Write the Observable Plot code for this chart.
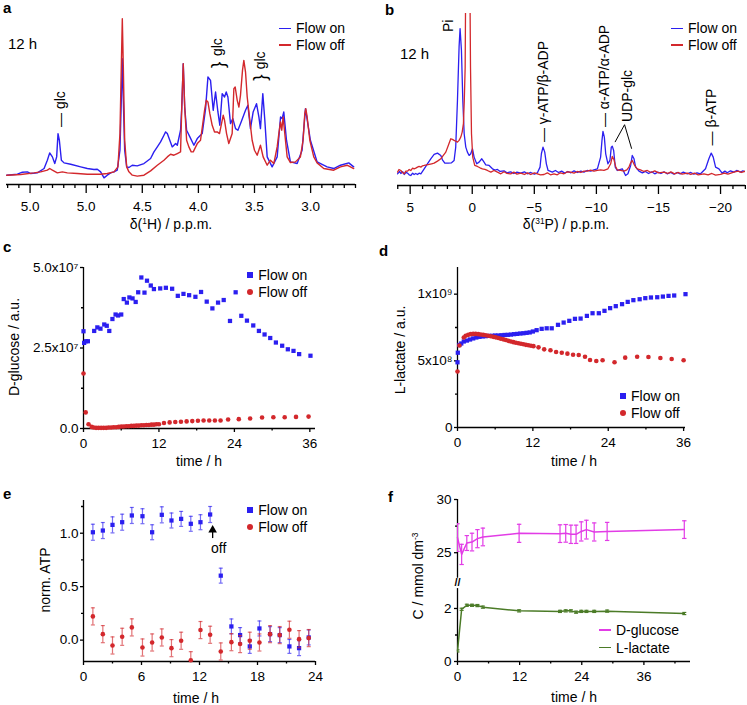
<!DOCTYPE html>
<html>
<head>
<meta charset="utf-8">
<script src="https://cdn.jsdelivr.net/npm/d3@7"></script>
<script src="https://cdn.jsdelivr.net/npm/@observablehq/plot@0.6"></script>
<style>
html,body{margin:0;padding:0;background:#fff;}
#fig{position:relative;width:747px;height:705px;overflow:hidden;font-family:"Liberation Sans",Arial,Helvetica,sans-serif;color:#000;background:#fff;}
.t{position:absolute;white-space:nowrap;line-height:1;}
.t sup{font-size:0.6em;line-height:0;vertical-align:0.6em;}
</style>
</head>
<body>
<div id="fig"></div>
<script>
// ---------------- DATA ----------------
// Panel a: 1H spectra [ppm, intensity a.u.]
const aFlowOn = [[5.708,1.0],[5.613,1.6],[5.568,2.8],[5.524,3.0],[5.494,2.0],[5.435,2.4],[5.375,5.0],[5.346,10.0],[5.325,14.4],[5.301,12.0],[5.280,8.0],[5.263,12.0],[5.251,26.0],[5.239,22.0],[5.221,10.0],[5.197,8.4],[5.138,7.6],[5.049,6.0],[4.990,5.0],[4.930,4.4],[4.901,4.6],[4.871,3.0],[4.841,-0.6],[4.812,1.0],[4.782,2.4],[4.752,3.0],[4.723,4.0],[4.699,16.0],[4.687,46.0],[4.678,71.0],[4.669,46.0],[4.657,16.0],[4.639,6.0],[4.619,5.6],[4.589,7.0],[4.545,6.6],[4.485,8.0],[4.426,11.0],[4.396,15.0],[4.366,18.0],[4.337,21.0],[4.307,25.0],[4.292,27.0],[4.277,26.0],[4.233,18.0],[4.203,20.0],[4.188,19.0],[4.159,28.0],[4.148,42.0],[4.135,68.0],[4.122,42.0],[4.105,28.0],[4.076,24.0],[4.040,19.0],[4.010,23.0],[3.966,26.0],[3.936,41.0],[3.915,60.0],[3.892,58.0],[3.868,40.0],[3.847,51.0],[3.826,39.0],[3.809,31.0],[3.788,50.0],[3.767,48.0],[3.752,51.0],[3.737,48.0],[3.714,32.0],[3.693,35.0],[3.669,29.0],[3.648,28.0],[3.619,33.0],[3.580,40.0],[3.559,43.0],[3.536,29.0],[3.512,39.0],[3.482,44.0],[3.461,36.0],[3.447,29.0],[3.426,50.0],[3.408,34.0],[3.387,12.0],[3.343,6.0],[3.298,12.0],[3.268,36.0],[3.254,35.0],[3.239,39.0],[3.215,22.0],[3.180,9.0],[3.120,8.0],[3.076,16.0],[3.046,41.0],[3.002,22.0],[2.942,9.0],[2.853,6.0],[2.794,5.0],[2.734,7.0],[2.660,8.4],[2.616,6.0]];
const aFlowOff = [[5.708,1.0],[5.583,1.4],[5.464,2.4],[5.405,3.0],[5.346,4.0],[5.325,5.0],[5.301,4.0],[5.257,2.4],[5.212,3.0],[5.168,2.4],[5.079,2.0],[4.990,1.6],[4.930,1.6],[4.871,1.6],[4.812,2.0],[4.752,3.0],[4.717,6.0],[4.699,26.0],[4.687,66.0],[4.678,95.0],[4.669,66.0],[4.657,22.0],[4.639,6.0],[4.619,3.0],[4.589,1.0],[4.545,0.4],[4.485,1.0],[4.426,3.6],[4.366,7.0],[4.307,10.0],[4.277,12.0],[4.248,13.6],[4.218,13.0],[4.188,14.0],[4.159,15.0],[4.148,42.0],[4.135,68.0],[4.122,42.0],[4.105,22.0],[4.085,18.0],[4.064,15.0],[4.046,15.0],[4.010,20.0],[3.981,22.0],[3.945,40.0],[3.930,46.0],[3.915,45.0],[3.898,38.0],[3.877,31.0],[3.856,27.0],[3.832,27.0],[3.812,26.0],[3.797,31.0],[3.779,37.0],[3.767,34.0],[3.749,26.0],[3.729,20.0],[3.699,26.0],[3.684,53.0],[3.672,54.0],[3.654,46.0],[3.639,42.0],[3.625,49.0],[3.607,64.0],[3.595,70.0],[3.580,63.0],[3.565,48.0],[3.545,36.0],[3.521,22.0],[3.500,16.0],[3.476,13.0],[3.447,19.0],[3.423,12.0],[3.387,7.0],[3.358,10.0],[3.328,8.0],[3.298,18.0],[3.283,26.0],[3.268,33.0],[3.257,28.0],[3.245,36.0],[3.230,26.0],[3.209,12.0],[3.180,8.6],[3.135,9.0],[3.091,12.0],[3.067,22.0],[3.052,38.0],[3.043,41.0],[3.031,36.0],[3.007,22.0],[2.972,12.0],[2.942,8.4],[2.883,5.0],[2.794,4.0],[2.734,6.0],[2.675,7.0],[2.616,5.0]];
const aTicks = [5.5, 5.0, 4.5, 4.0, 3.5, 3.0];
const aTickLabels = ["5.0", "5.0", "4.5", "4.0", "3.5", "3.0"];
const aMinorTicks = [5.7,5.6,5.4,5.3,5.2,5.1,4.9,4.8,4.7,4.6,4.4,4.3,4.2,4.1,3.9,3.8,3.7,3.6,3.4,3.3,3.2,3.1,2.9,2.8,2.7,2.6];
const aPeakLabels = [{x:5.233, y:30, t:"— glc"}];
const aBraceLabels = [{x:3.826, y:78, t:"glc"}, {x:3.447, y:70, t:"glc"}];
const aBraces = [{x:3.826, y:67.4}, {x:3.453, y:59.6}];

// Panel b: 31P spectra [ppm, intensity a.u.]
const bFlowOn = [[6.02,1.0],[5.85,2.4],[5.75,1.2],[5.6,2.2],[5.48,0.6],[5.35,1.8],[5.21,1.4],[5.08,0.4],[4.95,0.0],[4.8,1.4],[4.68,0.6],[4.55,1.2],[4.41,0.6],[4.28,1.4],[4.14,1.0],[3.87,4.0],[3.61,7.0],[3.34,10.0],[3.07,12.6],[2.80,13.4],[2.53,12.0],[2.40,9.4],[2.21,7.4],[1.94,7.4],[1.67,7.6],[1.46,9.0],[1.33,17.0],[1.19,45.0],[1.06,77.0],[0.98,88.0],[0.87,75.0],[0.76,45.0],[0.65,25.0],[0.52,17.0],[0.39,14.0],[0.25,12.0],[0.12,13.0],[-0.02,16.0],[-0.15,11.0],[-0.36,7.0],[-0.55,8.0],[-0.77,10.0],[-0.90,8.6],[-1.09,6.4],[-1.36,6.0],[-1.63,4.0],[-1.85,3.2],[-2.03,3.6],[-2.25,2.4],[-2.56,2.8],[-2.8,1.6],[-3.10,2.2],[-3.35,1.2],[-3.6,2.0],[-3.91,1.4],[-4.2,2.2],[-4.45,1.0],[-4.71,1.8],[-5.0,0.8],[-5.25,1.6],[-5.46,5.0],[-5.57,13.0],[-5.70,17.0],[-5.84,14.0],[-5.97,7.0],[-6.11,3.0],[-6.45,2.0],[-6.7,3.0],[-6.95,1.8],[-7.2,2.6],[-7.45,1.4],[-7.7,2.4],[-7.95,1.6],[-8.2,2.8],[-8.47,1.8],[-8.75,2.6],[-9.0,2.0],[-9.25,3.0],[-9.54,2.6],[-9.8,3.4],[-10.08,4.0],[-10.34,11.0],[-10.45,21.0],[-10.53,26.4],[-10.64,23.0],[-10.75,13.0],[-10.93,7.0],[-11.09,9.0],[-11.20,17.0],[-11.28,17.6],[-11.39,15.0],[-11.52,5.0],[-11.68,3.0],[-12.09,4.0],[-12.35,0.0],[-12.54,1.0],[-12.76,6.0],[-12.89,12.0],[-13.03,10.0],[-13.16,5.0],[-13.43,2.6],[-13.7,1.6],[-13.95,2.4],[-14.2,1.2],[-14.45,2.2],[-14.7,1.0],[-14.95,2.0],[-15.2,1.2],[-15.45,2.2],[-15.7,1.0],[-15.98,1.8],[-16.25,0.8],[-16.5,1.8],[-16.75,1.0],[-17.0,2.0],[-17.32,1.0],[-17.6,1.8],[-17.85,0.8],[-18.1,1.6],[-18.39,1.0],[-18.79,4.0],[-19.06,10.0],[-19.25,13.4],[-19.41,11.0],[-19.60,5.0],[-19.87,4.0],[-20.13,1.4],[-20.35,2.6],[-20.54,1.6],[-20.8,2.8],[-21.07,2.0],[-21.3,3.0],[-21.61,2.0],[-21.8,2.8],[-22.01,2.2]];
const bFlowOff = [[6.02,2.0],[5.9,3.6],[5.75,3.0],[5.6,1.6],[5.48,1.0],[5.35,2.6],[5.21,2.6],[5.08,3.6],[4.95,3.0],[4.8,4.4],[4.68,4.0],[4.55,4.4],[4.41,5.0],[4.28,5.4],[4.14,5.0],[4.0,5.8],[3.87,6.0],[3.67,6.4],[3.47,6.6],[3.27,7.0],[3.07,7.4],[2.8,8.6],[2.53,10.0],[2.33,12.0],[2.13,14.0],[1.93,18.0],[1.73,22.0],[1.60,21.6],[1.46,21.0],[1.33,20.6],[1.19,20.0],[1.06,21.0],[0.92,23.0],[0.81,26.0],[0.71,31.0],[0.64,45.0],[0.57,65.0],[0.49,160.0],[0.23,160.0],[0.14,65.0],[0.06,25.0],[-0.04,11.0],[-0.20,6.0],[-0.42,5.4],[-0.62,4.6],[-0.82,4.0],[-1.02,3.6],[-1.22,3.0],[-1.5,2.0],[-1.75,3.0],[-2.03,2.0],[-2.3,1.0],[-2.56,2.2],[-2.8,1.2],[-3.10,1.0],[-3.35,2.0],[-3.6,0.8],[-3.91,1.4],[-4.2,0.6],[-4.45,1.6],[-4.71,0.6],[-5.0,1.6],[-5.25,1.0],[-5.5,0.4],[-5.78,0.6],[-6.05,1.6],[-6.3,0.4],[-6.59,1.0],[-6.85,0.4],[-7.1,1.6],[-7.39,1.0],[-7.65,2.2],[-7.93,2.0],[-8.2,1.4],[-8.47,2.4],[-8.75,1.8],[-9.0,2.6],[-9.27,2.6],[-9.54,3.2],[-9.8,2.6],[-10.08,3.0],[-10.34,3.4],[-10.61,3.0],[-10.93,4.0],[-11.15,7.0],[-11.28,11.4],[-11.42,9.4],[-11.55,5.4],[-11.68,3.4],[-11.95,3.0],[-12.22,2.6],[-12.45,3.4],[-12.62,5.0],[-12.76,7.6],[-12.89,9.0],[-13.08,6.0],[-13.29,4.0],[-13.55,3.4],[-13.83,2.4],[-14.10,3.0],[-14.4,1.8],[-14.7,2.8],[-15.0,1.6],[-15.44,2.0],[-15.75,1.2],[-16.0,2.2],[-16.3,1.0],[-16.6,1.8],[-16.9,0.8],[-17.32,1.4],[-17.6,0.6],[-17.9,1.4],[-18.2,0.4],[-18.66,1.0],[-19.0,0.4],[-19.3,1.2],[-19.6,0.2],[-20.0,0.6],[-20.3,1.4],[-20.6,0.8],[-21.07,2.0],[-21.4,2.6],[-21.7,1.8],[-22.01,2.6]];
const bTicks = [5, 0, -5, -10, -15, -20];
const bTickLabels = ["5", "0", "\u22125", "\u221210", "\u221215", "\u221220"];
const bMinorTicks = [6,4,3,2,1,-1,-2,-3,-4,-6,-7,-8,-9,-11,-12,-13,-14,-16,-17,-18,-19,-21,-22];
const bPeakLabels = [{x:-5.75, y:20, t:"— \u03b3-ATP/\u03b2-ADP"}, {x:-10.62, y:29, t:"— \u03b1-ATP/\u03b1-ADP"}, {x:-12.49, y:32, t:"UDP-glc"}, {x:-19.28, y:18, t:"— \u03b2-ATP"}];
const bPiLabel = [{x:1.94, y:89.6, t:"Pi"}];
const bUdpLinks = [{x1:-12.27, y1:30.4, x2:-11.50, y2:20}, {x1:-12.27, y1:30.4, x2:-12.84, y2:16}];

// Panel c: D-glucose (units of 1e7 a.u.)
const cTimeOn = [0,0.1,0.4,0.7,1.7,2.2,2.7,3.3,3.7,4.1,4.6,5.1,5.5,6.0,6.4,6.9,7.3,7.8,8.3,8.7,9.2,9.7,10.1,10.7,11.2,12.2,13.1,14.1,15.0,15.9,16.8,17.8,18.7,19.6,20.5,21.4,22.3,23.3,24.2,25.1,26.0,27.0,27.9,28.8,29.7,30.6,31.6,32.5,33.4,34.3,36.1];
const cGlucoseOn = [3.02,2.66,2.71,2.71,3.03,3.14,3.10,3.23,3.19,3.03,3.40,3.54,3.51,3.54,4.02,3.91,4.07,4.04,3.93,4.23,4.69,4.22,4.59,4.44,4.33,4.35,4.37,4.34,4.12,4.18,4.14,4.09,4.24,3.94,3.73,3.91,3.99,3.34,4.23,3.50,3.35,3.20,3.03,2.92,2.81,2.67,2.57,2.46,2.41,2.31,2.26];
const cTimeOff = [0,0.35,0.8,1.3,1.6,2.0,2.4,2.8,3.2,3.6,4.0,4.4,4.8,5.2,5.6,6.0,6.4,6.8,7.2,7.6,8.0,8.4,8.8,9.2,9.6,10.0,10.4,10.8,11.2,11.6,12.0,12.8,13.7,14.6,15.5,16.4,17.3,18.2,19.1,20.0,20.9,21.8,23.0,24.7,26.5,28.4,30.2,32.0,33.8,35.8];
const cGlucoseOff = [1.71,0.50,0.13,0.05,0.03,0.02,0.02,0.02,0.02,0.02,0.03,0.03,0.04,0.04,0.05,0.06,0.06,0.07,0.07,0.08,0.08,0.09,0.09,0.10,0.10,0.11,0.11,0.12,0.12,0.13,0.13,0.17,0.19,0.20,0.21,0.22,0.23,0.24,0.25,0.25,0.25,0.25,0.28,0.29,0.31,0.34,0.35,0.35,0.36,0.37];
const cYTicks = [0, 2.5, 5];
const cYTickLabels = ["0.0", "2.5x10\u2077", "5.0x10\u2077"];

// Panel d: L-lactate (units of 1e9 a.u.)
const dTimeOn = [0,0.05,0.3,0.6,1.0,1.5,2.0,2.5,3.0,3.5,4.0,4.5,5.0,5.5,6.0,6.5,7.0,7.5,8.0,8.5,9.0,9.5,10.0,10.5,11.0,11.5,12.0,12.6,13.4,14.2,15.0,16.0,16.9,17.8,18.7,19.6,20.6,21.5,22.5,23.4,24.3,25.2,26.2,27.1,28.0,29.0,29.9,30.8,31.8,32.7,33.6,34.5,36.3];
const dLactateOn = [0.489,0.561,0.619,0.630,0.645,0.652,0.660,0.668,0.675,0.680,0.683,0.685,0.687,0.688,0.690,0.690,0.692,0.694,0.695,0.697,0.700,0.702,0.705,0.707,0.710,0.713,0.720,0.730,0.740,0.744,0.744,0.770,0.787,0.800,0.815,0.817,0.837,0.857,0.857,0.875,0.895,0.910,0.925,0.942,0.955,0.962,0.970,0.975,0.977,0.982,0.987,0.990,1.000];
const dTimeOff = [0,0.3,1.0,1.3,1.7,2.1,2.5,2.9,3.3,3.7,4.1,4.5,4.9,5.3,5.7,6.1,6.5,6.9,7.3,7.7,8.1,8.5,8.9,9.3,9.7,10.1,10.5,10.9,11.3,11.7,12.1,12.9,13.8,14.8,15.7,16.6,17.5,18.4,19.3,20.3,21.1,22.1,23.1,25.0,26.7,28.6,30.4,32.3,34.1,36.0];
const dLactateOff = [0.420,0.615,0.675,0.688,0.695,0.700,0.702,0.702,0.700,0.698,0.695,0.692,0.688,0.684,0.680,0.676,0.671,0.666,0.661,0.656,0.650,0.645,0.640,0.636,0.632,0.628,0.624,0.620,0.617,0.613,0.610,0.601,0.586,0.579,0.566,0.561,0.554,0.546,0.544,0.531,0.506,0.499,0.504,0.489,0.524,0.531,0.529,0.521,0.514,0.504];
const dYTicks = [0, 0.5, 1];
const dYTickLabels = ["0", "5x10\u2078", "1x10\u2079"];

// Panel e: normalised ATP
const eTime = [0.97,2.0,3.0,4.0,5.0,6.1,7.1,8.1,9.1,10.1,11.1,12.1,13.1,14.2,15.3,16.2,17.2,18.2,19.3,20.3,21.3,22.3,23.3];
const eATPOn = [1.009,1.025,1.078,1.103,1.166,1.159,1.009,1.172,1.119,1.134,1.088,1.103,1.175,0.603,0.128,0.047,-0.059,0.109,0.056,0.047,-0.059,-0.075,0.025];
const eErrOn = [0.075,0.075,0.075,0.075,0.075,0.07,0.07,0.075,0.07,0.07,0.07,0.07,0.075,0.07,0.07,0.07,0.065,0.07,0.07,0.07,0.065,0.07,0.07];
const eATPOff = [0.222,0.056,-0.05,0.031,0.119,-0.069,-0.022,0.025,-0.075,-0.006,-0.188,0.094,0.05,-0.106,-0.019,-0.037,-0.006,-0.022,0.056,0.047,0.097,0.009,0.019];
const eErrOff = [0.08,0.08,0.08,0.08,0.08,0.08,0.08,0.08,0.08,0.08,0.08,0.08,0.08,0.08,0.08,0.08,0.08,0.08,0.08,0.08,0.08,0.08,0.08];
const eArrow = [{x:13.36, y1:0.95, y2:1.03}];
const eArrowLabel = [{x:13.98, y:0.853, t:"off"}];

// Panel f: concentrations (mmol dm-3)
const fTime = [0,0.8,1.8,2.8,3.85,4.9,11.9,19.8,20.9,21.9,22.9,23.9,24.9,26.4,28.9,43.8];
const fGlucose = [26.42,24.84,25.91,26.0,26.32,26.48,26.82,26.79,26.82,26.73,26.73,27.0,27.17,26.95,27.0,27.17];
const fGlucoseErr = [1.3,0.95,0.7,0.83,0.85,0.83,0.85,0.83,0.83,0.86,0.86,0.9,0.88,0.85,0.85,0.83];
const fLactate = [0.4,1.97,2.12,2.12,2.11,2.05,1.91,1.89,1.91,1.91,1.86,1.89,1.89,1.89,1.90,1.81];
const fLactateErr = [0.04,0.04,0.04,0.04,0.04,0.04,0.04,0.04,0.04,0.04,0.04,0.04,0.04,0.04,0.04,0.04];

// ---------------- STYLE / HELPERS ----------------
const BLUE = "#2b1ff0", RED = "#d3282c", MAGENTA = "#e23ce6", GREEN = "#4b7b27";
const FONT = '"Liberation Sans", Arial, Helvetica, sans-serif';
const fig = document.getElementById("fig");
const svgStyle = () => ({background: "transparent", overflow: "visible", fontFamily: FONT, fontSize: "13.5px", color: "#000", maxWidth: "none"});
function put(svg, left, top) { svg.style.position = "absolute"; svg.style.left = left + "px"; svg.style.top = top + "px"; fig.appendChild(svg); }
const pick = (vals, labs) => (d) => labs[vals.indexOf(d)];
const blank = () => "";
const cap = {draw(ctx, size) { const w = Math.sqrt(size / Math.PI); ctx.moveTo(-w, 0); ctx.lineTo(w, 0); }};
const X = (d) => d[0], Y = (d) => d[1];
const AX = {strokeWidth: 1.3};

function txt(html, x, y, {size = 14, rotate = false, anchor = "center", bold = false} = {}) {
  const d = document.createElement("div");
  d.className = "t"; d.innerHTML = html;
  d.style.left = x + "px"; d.style.top = y + "px"; d.style.fontSize = size + "px";
  if (bold) d.style.fontWeight = "bold";
  if (anchor === "center") d.style.transform = "translate(-50%,-50%)" + (rotate ? " rotate(-90deg)" : "");
  else if (anchor === "left") d.style.transform = "translate(0,-50%)";
  fig.appendChild(d);
}
function swatch(kind, color, cx, cy) {
  const d = document.createElement("div");
  d.style.position = "absolute"; d.style.background = color;
  if (kind === "line") { d.style.left = (cx - 6) + "px"; d.style.top = (cy - 0.75) + "px"; d.style.width = "12px"; d.style.height = "1.5px"; }
  else { d.style.left = (cx - 3) + "px"; d.style.top = (cy - 3) + "px"; d.style.width = "6px"; d.style.height = "6px"; if (kind === "circle") d.style.borderRadius = "50%"; }
  fig.appendChild(d);
}
function legend(items, x, y0, dy, textX) {
  items.forEach((it, i) => { swatch(it.kind, it.color, x, y0 + i * dy); txt(it.label, textX, y0 + i * dy, {anchor: "left"}); });
}
function errorMarks(rows, color, opacity, r) {
  return [
    Plot.ruleX(rows, {x: "t", y1: (d) => d.v - d.e, y2: (d) => d.v + d.e, stroke: color, strokeOpacity: opacity, strokeWidth: 1.2, clip: true}),
    Plot.dot(rows, {x: "t", y: (d) => d.v + d.e, symbol: cap, r, stroke: color, strokeOpacity: opacity, fill: "none", strokeWidth: 1.2, clip: true}),
    Plot.dot(rows, {x: "t", y: (d) => d.v - d.e, symbol: cap, r, stroke: color, strokeOpacity: opacity, fill: "none", strokeWidth: 1.2, clip: true})
  ];
}

// ---------------- PANEL a ----------------
const aYDomain = [-4.6, 106];
put(Plot.plot({
  width: 370, height: 235, marginLeft: 6, marginRight: 15, marginTop: 0, marginBottom: 51,
  style: svgStyle(),
  x: {domain: [5.71, 2.6], label: null},
  y: {domain: aYDomain, axis: null, label: null},
  marks: [
    Plot.ruleY([aYDomain[0]], AX),
    Plot.axisX({ticks: aTicks, tickFormat: pick(aTicks, aTickLabels), tickSize: 9, tickPadding: 8, label: null, ...AX}),
    Plot.axisX({ticks: aMinorTicks, tickFormat: blank, tickSize: 4, label: null, ...AX}),
    Plot.line(aFlowOn, {x: X, y: Y, stroke: BLUE, strokeWidth: 1.4}),
    Plot.line(aFlowOff, {x: X, y: Y, stroke: RED, strokeWidth: 1.4}),
    Plot.text(aPeakLabels, {x: "x", y: "y", text: "t", rotate: -90, textAnchor: "start", fontSize: 14}),
    Plot.text(aBraceLabels, {x: "x", y: "y", text: "t", rotate: -90, fontSize: 14}),
    Plot.text(aBraces, {x: "x", y: "y", text: () => "}", rotate: -90, fontSize: 19})
  ]
}), 0, 0);

// ---------------- PANEL b ----------------
const bYDomain = [-6, 97];
put(Plot.plot({
  width: 377, height: 235, marginLeft: 27, marginRight: 2, marginTop: 13, marginBottom: 50,
  style: svgStyle(),
  x: {domain: [6.02, -22.01], label: null},
  y: {domain: bYDomain, axis: null, label: null},
  marks: [
    Plot.ruleY([bYDomain[0]], AX),
    Plot.axisX({ticks: bTicks, tickFormat: pick(bTicks, bTickLabels), tickSize: 9, tickPadding: 8, label: null, ...AX}),
    Plot.axisX({ticks: bMinorTicks, tickFormat: blank, tickSize: 4, label: null, ...AX}),
    Plot.line(bFlowOn, {x: X, y: Y, stroke: BLUE, strokeWidth: 1.3, clip: true}),
    Plot.line(bFlowOff, {x: X, y: Y, stroke: RED, strokeWidth: 1.3, clip: true}),
    Plot.text(bPeakLabels, {x: "x", y: "y", text: "t", rotate: -90, textAnchor: "start", fontSize: 14}),
    Plot.text(bPiLabel, {x: "x", y: "y", text: "t", rotate: -90, fontSize: 14}),
    Plot.link(bUdpLinks, {x1: "x1", y1: "y1", x2: "x2", y2: "y2", stroke: "#000", strokeWidth: 1})
  ]
}), 370, 0);

// ---------------- PANEL c ----------------
const cOn = cTimeOn.map((t, i) => ({t, v: cGlucoseOn[i]}));
const cOff = cTimeOff.map((t, i) => ({t, v: cGlucoseOff[i]}));
put(Plot.plot({
  width: 370, height: 235, marginLeft: 83, marginRight: 55, marginTop: 27, marginBottom: 47,
  style: svgStyle(),
  x: {domain: [0, 36.9], label: null},
  y: {domain: [0, 5], label: null},
  marks: [
    Plot.ruleX([0], AX), Plot.ruleY([0], AX),
    Plot.axisX({ticks: [0, 12, 24, 36], tickSize: 4, tickPadding: 6, label: null, ...AX}),
    Plot.axisX({ticks: [6, 18, 30], tickFormat: blank, tickSize: 2.5, label: null, ...AX}),
    Plot.axisY({ticks: cYTicks, tickFormat: pick(cYTicks, cYTickLabels), tickSize: 3, tickPadding: 2, label: null, ...AX}),
    Plot.axisY({ticks: [1.25, 3.75], tickFormat: blank, tickSize: 2, label: null, ...AX}),
    Plot.dot(cOn, {x: "t", y: "v", symbol: "square", r: 2.4, fill: BLUE}),
    Plot.dot(cOff, {x: "t", y: "v", r: 2.3, fill: RED})
  ]
}), 0, 240);

// ---------------- PANEL d ----------------
const dOn = dTimeOn.map((t, i) => ({t, v: dLactateOn[i]}));
const dOff = dTimeOff.map((t, i) => ({t, v: dLactateOff[i]}));
put(Plot.plot({
  width: 377, height: 235, marginLeft: 87, marginRight: 62, marginTop: 27, marginBottom: 48,
  style: svgStyle(),
  x: {domain: [0, 36.3], label: null},
  y: {domain: [0, 1.2], label: null},
  marks: [
    Plot.ruleX([0], AX), Plot.ruleY([0], AX),
    Plot.axisX({ticks: [0, 12, 24, 36], tickSize: 4, tickPadding: 6, label: null, ...AX}),
    Plot.axisX({ticks: [6, 18, 30], tickFormat: blank, tickSize: 2.5, label: null, ...AX}),
    Plot.axisY({ticks: dYTicks, tickFormat: pick(dYTicks, dYTickLabels), tickSize: 3, tickPadding: 2, label: null, ...AX}),
    Plot.axisY({ticks: [0.25, 0.75], tickFormat: blank, tickSize: 2, label: null, ...AX}),
    Plot.dot(dOn, {x: "t", y: "v", symbol: "square", r: 2.4, fill: BLUE}),
    Plot.dot(dOff, {x: "t", y: "v", r: 2.3, fill: RED})
  ]
}), 370, 240);

// ---------------- PANEL e ----------------
const eOn = eTime.map((t, i) => ({t, v: eATPOn[i], e: eErrOn[i]}));
const eOff = eTime.map((t, i) => ({t, v: eATPOff[i], e: eErrOff[i]}));
put(Plot.plot({
  width: 370, height: 235, marginLeft: 83, marginRight: 55, marginTop: 30, marginBottom: 44,
  style: svgStyle(),
  x: {domain: [0, 24], label: null},
  y: {domain: [-0.2, 1.306], label: null},
  marks: [
    Plot.ruleX([0], AX), Plot.ruleY([-0.2], AX),
    Plot.axisX({ticks: [0, 6, 12, 18, 24], tickSize: 4, tickPadding: 6, label: null, ...AX}),
    Plot.axisX({ticks: [3, 9, 15, 21], tickFormat: blank, tickSize: 2.5, label: null, ...AX}),
    Plot.axisY({ticks: [0, 0.5, 1], tickFormat: (d) => d.toFixed(1), tickSize: 3, tickPadding: 2, label: null, ...AX}),
    Plot.axisY({ticks: [0.25, 0.75, 1.25], tickFormat: blank, tickSize: 2, label: null, ...AX}),
    ...errorMarks(eOn, BLUE, 0.65, 2),
    Plot.dot(eOn, {x: "t", y: "v", symbol: "square", r: 2.4, fill: BLUE}),
    ...errorMarks(eOff, RED, 0.65, 2),
    Plot.dot(eOff, {x: "t", y: "v", r: 2.3, fill: RED}),
    Plot.ruleX(eArrow, {x: "x", y1: "y1", y2: "y2", stroke: "#000", strokeWidth: 1.3}),
    Plot.dot(eArrow, {x: "x", y: "y2", symbol: "triangle", r: 3.2, fill: "#000"}),
    Plot.text(eArrowLabel, {x: "x", y: "y", text: "t", fontSize: 14})
  ]
}), 0, 470);

// ---------------- PANEL f (broken y axis: upper + lower) ----------------
const fG = fTime.map((t, i) => ({t, v: fGlucose[i], e: fGlucoseErr[i]}));
const fL = fTime.map((t, i) => ({t, v: fLactate[i], e: fLactateErr[i]}));
const fXDomain = [0, 45];
put(Plot.plot({
  width: 377, height: 112, marginLeft: 87, marginRight: 57, marginTop: 29, marginBottom: 0,
  style: svgStyle(),
  x: {domain: fXDomain, axis: null, label: null},
  y: {domain: [22.2, 30], label: null},
  marks: [
    Plot.ruleX([0], {y1: 22.6, y2: 30, ...AX}),
    Plot.axisY({ticks: [25, 30], tickFormat: (d) => String(d), tickSize: 3, tickPadding: 3, label: null, ...AX}),
    Plot.axisY({ticks: [27.5], tickFormat: blank, tickSize: 2, label: null, ...AX}),
    ...errorMarks(fG, MAGENTA, 1, 2.2),
    Plot.line(fG, {x: "t", y: "v", stroke: MAGENTA, strokeWidth: 1.5})
  ]
}), 370, 470);
put(Plot.plot({
  width: 377, height: 123, marginLeft: 87, marginRight: 57, marginTop: 0, marginBottom: 44,
  style: svgStyle(),
  x: {domain: fXDomain, label: null},
  y: {domain: [0, 2.98], label: null},
  marks: [
    Plot.ruleX([0], {y1: 0, y2: 2.75, ...AX}),
    Plot.ruleY([0], AX),
    Plot.text(["//"], {x: () => 0, y: () => 2.98, text: (d) => d, fontSize: 11, fontWeight: "bold"}),
    Plot.axisX({ticks: [0, 12, 24, 36], tickSize: 4, tickPadding: 6, label: null, ...AX}),
    Plot.axisX({ticks: [6, 18, 30, 42], tickFormat: blank, tickSize: 2.5, label: null, ...AX}),
    Plot.axisY({ticks: [0, 2], tickFormat: (d) => String(d), tickSize: 3, tickPadding: 3, label: null, ...AX}),
    Plot.axisY({ticks: [1], tickFormat: blank, tickSize: 2, label: null, ...AX}),
    ...errorMarks(fL, GREEN, 1, 2),
    Plot.line(fL, {x: "t", y: "v", stroke: GREEN, strokeWidth: 1.5})
  ]
}), 370, 582);

// ---------------- TEXT: panel letters, titles, legends ----------------
const panelLetters = ["a", "b", "c", "d", "e", "f"];
const letterPos = [[3, 0], [385, 2.3], [3, 239], [379, 243], [3, 485.6], [388, 489]];
panelLetters.forEach((l, i) => {
  const d = document.createElement("div"); d.className = "t"; d.textContent = l;
  d.style.left = letterPos[i][0] + "px"; d.style.top = letterPos[i][1] + "px";
  d.style.fontSize = "15px"; d.style.fontWeight = "bold"; fig.appendChild(d);
});
txt("12 h", 8, 42.8, {size: 15, anchor: "left"});
txt("12 h", 400, 52.5, {size: 15, anchor: "left"});

txt("\u03b4(<sup>1</sup>H) / p.p.m.", 171, 224);
txt("\u03b4(<sup>31</sup>P) / p.p.m.", 566, 224);
txt("time / h", 199, 461);
txt("time / h", 574, 461);
txt("time / h", 196, 698);
txt("time / h", 574, 697);
txt("D-glucose / a.u.", 13.5, 347, {rotate: true});
txt("L-lactate / a.u.", 400, 350, {rotate: true});
txt("norm. ATP", 45, 580, {rotate: true});
txt("C / mmol dm<sup>-3</sup>", 418, 576, {rotate: true});

legend([{kind: "line", color: BLUE, label: "Flow on"}, {kind: "line", color: RED, label: "Flow off"}], 285, 28.3, 16.7, 296);
legend([{kind: "line", color: BLUE, label: "Flow on"}, {kind: "line", color: RED, label: "Flow off"}], 677, 28.3, 16.7, 688);
legend([{kind: "square", color: BLUE, label: "Flow on"}, {kind: "circle", color: RED, label: "Flow off"}], 250.3, 275, 16.7, 258.3);
legend([{kind: "square", color: BLUE, label: "Flow on"}, {kind: "circle", color: RED, label: "Flow off"}], 623, 395.7, 17, 631);
legend([{kind: "square", color: BLUE, label: "Flow on"}, {kind: "circle", color: RED, label: "Flow off"}], 250.3, 510, 17.3, 258.3);
legend([{kind: "line", color: MAGENTA, label: "D-glucose"}, {kind: "line", color: GREEN, label: "L-lactate"}], 605, 630, 17.7, 616);
</script>
</body>
</html>
